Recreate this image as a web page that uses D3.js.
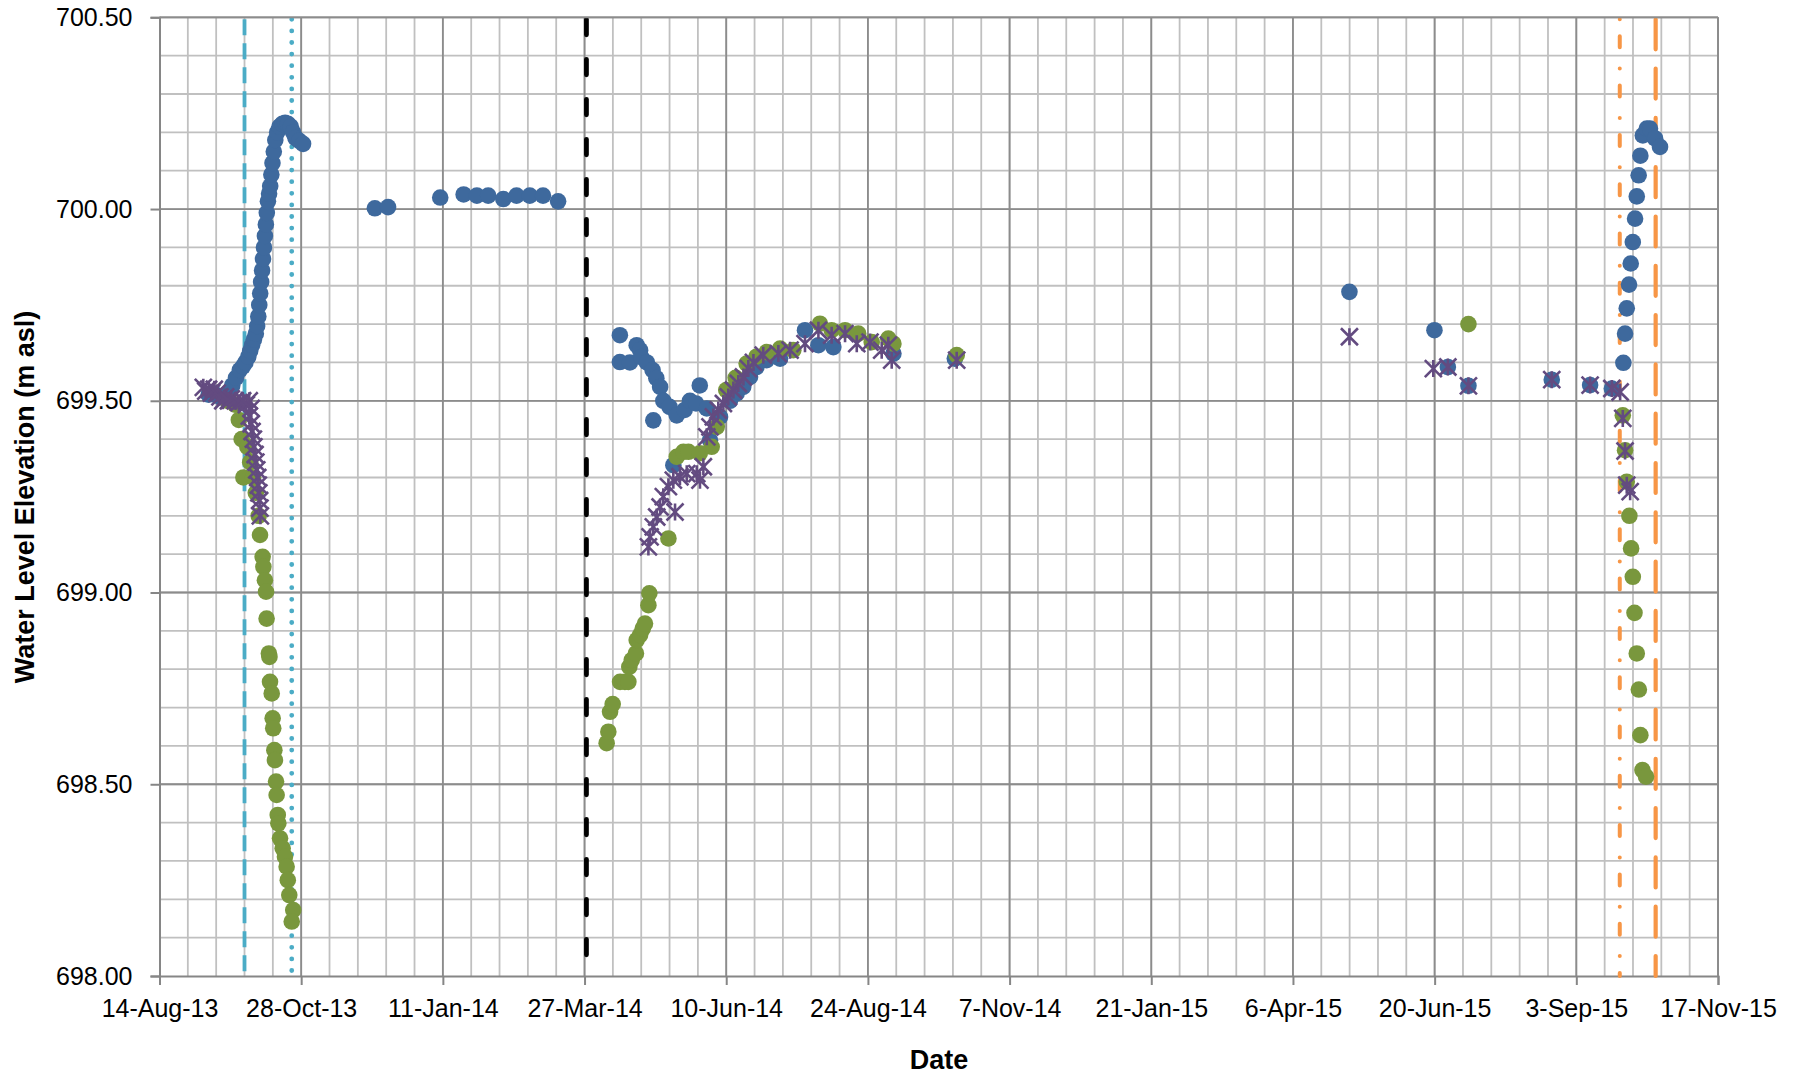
<!DOCTYPE html>
<html lang="en">
<head>
<meta charset="UTF-8">
<title>Water Level Elevation</title>
<script src="https://d3js.org/d3.v7.min.js"></script>
<style>
  body { margin: 0; background: #fff; }
  text { font-family: "Liberation Sans", Arial, sans-serif; fill: #000; }
</style>
</head>
<body>
<div id="chart"></div>
<script>
// all x values are days after 14-Aug-13
var blueDays = [26, 28, 30, 32, 34, 36, 38.5, 40.5, 42.5, 44.2, 45.5, 47, 48, 49, 50, 51, 51.7, 52.3, 52.8, 53.3,
    53.8, 54.3, 54.8, 55.3, 55.8, 56.3, 56.8, 57.4, 58, 58.6, 59.2, 59.8, 60.5, 61.3, 62.3, 63.5, 65, 66.5, 68, 69.5,
    70.7, 72, 74, 76,
    114, 121, 148.6, 161, 168, 174, 182, 189, 196, 203, 211,
    243.7, 243.7, 249, 252.6, 254.4, 255, 258, 261, 261.4, 263, 265, 266.7, 270, 272, 273.8, 278, 280.8, 284, 286,
    289.7, 291.4, 296.7, 302, 305.5, 309, 312.6, 316, 321.4, 328.5, 341.7, 348.8, 356.7, 388.5, 421,
    629.9, 674.9, 682, 692.9, 737, 757.3, 768.8, 774.9, 775.8, 776.7, 777.9, 778.8, 779.9, 781.1, 782, 783, 783.9,
    785.2, 787.3, 789, 791.7, 794.3];
var blueLevels = [699.516, 699.52, 699.515, 699.51, 699.512, 699.52, 699.54, 699.56, 699.58, 699.59, 699.60, 699.615,
    699.63, 699.645, 699.66, 699.675, 699.695, 699.72, 699.75, 699.78, 699.81, 699.84, 699.87, 699.90, 699.93, 699.96,
    699.99, 700.02, 700.04, 700.06, 700.09, 700.12, 700.15, 700.18, 700.20, 700.215, 700.222, 700.225, 700.222,
    700.215, 700.20, 700.185, 700.178, 700.17,
    700.002, 700.005, 700.03, 700.038, 700.035, 700.035, 700.026, 700.035, 700.035, 700.035, 700.02,
    699.671, 699.601, 699.60, 699.645, 699.632, 699.614, 699.60, 699.58, 699.449, 699.559, 699.536, 699.50, 699.484,
    699.332, 699.462, 699.476, 699.50, 699.493, 699.54, 699.48, 699.397, 699.458, 699.50, 699.519, 699.536, 699.562,
    699.588, 699.606, 699.61, 699.684, 699.645, 699.64, 699.623, 699.61,
    699.784, 699.684, 699.588, 699.539, 699.555, 699.541, 699.532, 699.599, 699.675, 699.741, 699.803, 699.858,
    699.914, 699.975, 700.033, 700.088, 700.139, 700.192, 700.21, 700.21, 700.184, 700.162];

var greenDays = [36, 40, 42, 43.5, 44.4, 46.5, 48, 49.5, 51, 52.5, 53.2, 54.6, 55, 55.8, 56.4, 56.7, 57.9, 58.2, 58.5,
    59.4, 59.9, 60.2, 60.8, 61.1, 61.7, 62, 62.6, 62.9, 63.8, 65.2, 66.4, 67.3, 67.9, 68.7, 70.8, 70,
    236.7, 237.6, 238.5, 239.9, 243.8, 246.4, 248.2, 248.7, 250, 252.2, 252.6, 254.4, 255.8, 257, 258.8, 259.3,
    269.4, 273.8, 277.3, 280, 286, 292.3, 295, 300, 305, 310.8, 316, 321.4, 328.5, 335.5, 349.6, 355.8, 362.9,
    369.9, 377, 385.8, 388.5, 422,
    692.9, 774.6, 775.8, 776.7, 778.1, 779, 779.9, 780.8, 782, 783.1, 783.9, 785, 786.9];
var greenLevels = [699.50, 699.49, 699.45, 699.40, 699.30, 699.38, 699.34, 699.30, 699.26, 699.20, 699.15, 699.093,
    699.067, 699.032, 699.002, 698.932, 698.841, 698.832, 698.767, 698.737, 698.672, 698.646, 698.589, 698.563,
    698.507, 698.472, 698.42, 698.398, 698.359, 698.333, 698.311, 698.285, 698.25, 698.211, 698.172, 698.142,
    698.607, 698.637, 698.689, 698.709, 698.767, 698.767, 698.767, 698.806, 698.824, 698.841, 698.876, 698.889,
    698.906, 698.919, 698.967, 698.998,
    699.141, 699.354, 699.367, 699.367, 699.363, 699.38, 699.432, 699.528, 699.56, 699.597, 699.615, 699.627,
    699.636, 699.632, 699.701, 699.684, 699.684, 699.675, 699.653, 699.662, 699.649, 699.619,
    699.70, 699.462, 699.371, 699.289, 699.20, 699.115, 699.041, 698.947, 698.841, 698.747, 698.628, 698.537, 698.52];

var purpleDays = [23.2, 24.5, 26, 27.5, 29, 30.5, 32, 33.5, 35, 36.5, 38, 40, 42, 44, 46, 47.5, 48.5, 47.5, 48.5, 49,
    49.7, 50, 50.6, 51, 51.5, 52, 52.3, 52.6, 53, 53.2, 53.4,
    258.8, 259.7, 261.4, 263.2, 265, 266.7, 269.4, 272, 272.9, 275.5, 279.1, 284.4, 286.1, 287.9, 289.7, 291.4,
    293.2, 295.8, 298.5, 301.1, 303.8, 306.4, 309.1, 311.7, 314.4, 319.6, 327.6, 333.8, 341.7, 348.8, 355.8, 362.9,
    369.1, 376.1, 382.3, 385.8, 387.6, 422,
    629.9, 674.3, 682, 692.9, 737, 757.3, 768.8, 773.2, 774.6, 775.8, 776.7, 778.5];
var purpleLevels = [699.535, 699.525, 699.53, 699.52, 699.53, 699.52, 699.51, 699.50, 699.51, 699.50, 699.505, 699.50,
    699.495, 699.50, 699.49, 699.50, 699.48, 699.46, 699.44, 699.42, 699.40, 699.38, 699.36, 699.34, 699.32, 699.30,
    699.28, 699.26, 699.24, 699.22, 699.20,
    699.119, 699.145, 699.171, 699.197, 699.223, 699.25, 699.276, 699.293, 699.21, 699.302, 699.31, 699.31, 699.293,
    699.328, 699.406, 699.432, 699.458, 699.476, 699.493, 699.51, 699.528, 699.545, 699.562, 699.584, 699.60,
    699.619, 699.623, 699.632, 699.649, 699.684, 699.671, 699.675, 699.649, 699.653, 699.632, 699.645, 699.606,
    699.606,
    699.667, 699.584, 699.588, 699.539, 699.555, 699.541, 699.532, 699.523, 699.454, 699.369, 699.28, 699.263];

// vertical event lines (days after 14-Aug-13)
var eventDays = [45, 70, 226, 773, 792];

var xTickLabels = ["14-Aug-13", "28-Oct-13", "11-Jan-14", "27-Mar-14", "10-Jun-14", "24-Aug-14", "7-Nov-14",
    "21-Jan-15", "6-Apr-15", "20-Jun-15", "3-Sep-15", "17-Nov-15"];
var yTickLabels = ["698.00", "698.50", "699.00", "699.50", "700.00", "700.50"];

var margin = {top: 17.3, right: 87, bottom: 100, left: 159.5},
    width = 1805 - margin.left - margin.right,
    height = 1076 - margin.top - margin.bottom;

var parseDate = d3.utcParse("%d-%b-%y");
var xTicks = xTickLabels.map(parseDate);
var start = xTicks[0], end = xTicks[xTicks.length - 1];
function toDate(d) { return new Date(start.getTime() + d * 864e5); }

var svg = d3.select("#chart")
    .append("svg")
    .attr("width", 1805)
    .attr("height", 1076)
    .append("g")
    .attr("transform", "translate(" + margin.left + "," + margin.top + ")");

var x = d3.scaleUtc().domain([start, end]).range([0, width]);
var yTicks = yTickLabels.map(Number);
var y = d3.scaleLinear().domain([yTicks[0], yTicks[yTicks.length - 1]]).range([height, 0]);

// minor grid every 15 days / 0.1 m
var grid = svg.append("g");
grid.selectAll(".vmin")
    .data(d3.range(15, 825, 15).map(toDate))
    .enter().append("line")
    .attr("x1", d => x(d)).attr("x2", d => x(d))
    .attr("y1", 0).attr("y2", height)
    .attr("stroke", "#c0c0c0").attr("stroke-width", 1.8);
grid.selectAll(".hmin")
    .data(d3.range(1, 25).map(i => yTicks[0] + i * 0.1))
    .enter().append("line")
    .attr("x1", 0).attr("x2", width)
    .attr("y1", d => y(d)).attr("y2", d => y(d))
    .attr("stroke", "#c0c0c0").attr("stroke-width", 1.8);
// major grid
grid.selectAll(".vmaj")
    .data(xTicks.slice(1))
    .enter().append("line")
    .attr("x1", d => x(d)).attr("x2", d => x(d))
    .attr("y1", 0).attr("y2", height)
    .attr("stroke", "#8c8c8c").attr("stroke-width", 1.8);
grid.selectAll(".hmaj")
    .data(yTicks.slice(1))
    .enter().append("line")
    .attr("x1", 0).attr("x2", width)
    .attr("y1", d => y(d)).attr("y2", d => y(d))
    .attr("stroke", "#8c8c8c").attr("stroke-width", 1.8);

// axes
var xAxis = svg.append("g")
    .attr("transform", "translate(0," + height + ")")
    .call(d3.axisBottom(x).tickValues(xTicks).tickFormat((d, i) => xTickLabels[i]).tickSize(9).tickPadding(14));
var yAxis = svg.append("g")
    .call(d3.axisLeft(y).tickValues(yTicks).tickFormat((d, i) => yTickLabels[i]).tickSize(9).tickPadding(18));
[xAxis, yAxis].forEach(function(a) {
    a.select(".domain").attr("stroke", "#868686").attr("stroke-width", 2);
    a.selectAll(".tick line").attr("stroke", "#868686").attr("stroke-width", 2);
    a.selectAll("text").style("font-size", "25px").attr("fill", "#000");
});

// event lines
var eventStyles = [
    {color: "#4bacc6", width: 3.8, dash: "16,8", cap: "butt"},
    {color: "#4bacc6", width: 4.8, dash: "0,11.6", cap: "round"},
    {color: "#000000", width: 4.8, dash: "15.5,24.5", cap: "round"},
    {color: "#f79646", width: 4, dash: "0,17,11,21.3", cap: "round"},
    {color: "#f79646", width: 4.2, dash: "30,19.3", cap: "round"}
];
svg.selectAll(".event")
    .data(eventDays)
    .enter().append("line")
    .attr("x1", d => x(toDate(d))).attr("x2", d => x(toDate(d)))
    .attr("y1", 2).attr("y2", height)
    .attr("stroke", (d, i) => eventStyles[i].color)
    .attr("stroke-width", (d, i) => eventStyles[i].width)
    .attr("stroke-dasharray", (d, i) => eventStyles[i].dash)
    .attr("stroke-linecap", (d, i) => eventStyles[i].cap);

// series
function pts(days, levels) { return days.map((d, i) => ({date: toDate(d), v: levels[i]})); }

svg.append("g").selectAll("circle")
    .data(pts(blueDays, blueLevels))
    .enter().append("circle")
    .attr("cx", d => x(d.date)).attr("cy", d => y(d.v))
    .attr("r", 8.3).attr("fill", "#3e699d");

svg.append("g").selectAll("circle")
    .data(pts(greenDays, greenLevels))
    .enter().append("circle")
    .attr("cx", d => x(d.date)).attr("cy", d => y(d.v))
    .attr("r", 8.3).attr("fill", "#79973d");

var s = 8.5;
svg.append("g").selectAll("path")
    .data(pts(purpleDays, purpleLevels))
    .enter().append("path")
    .attr("transform", d => "translate(" + x(d.date) + "," + y(d.v) + ")")
    .attr("d", "M" + (-s) + "," + (-s) + "L" + s + "," + s + "M" + (-s) + "," + s + "L" + s + "," + (-s) +
        "M0," + (-s) + "L0," + s)
    .attr("stroke", "#634b80").attr("stroke-width", 2.6).attr("fill", "none");

// border top/right
svg.append("line").attr("x1", 0).attr("x2", width).attr("y1", 0).attr("y2", 0)
    .attr("stroke", "#8c8c8c").attr("stroke-width", 1.8);
svg.append("line").attr("x1", width).attr("x2", width).attr("y1", 0).attr("y2", height)
    .attr("stroke", "#8c8c8c").attr("stroke-width", 1.8);

// axis titles
svg.append("text")
    .attr("transform", "translate(" + (25 - margin.left) + "," + (497 - margin.top) + ") rotate(-90)")
    .attr("text-anchor", "middle").attr("dy", "0.35em")
    .style("font-size", "27px").style("font-weight", "bold")
    .text("Water Level Elevation (m asl)");
svg.append("text")
    .attr("x", 939 - margin.left).attr("y", 1060 - margin.top)
    .attr("text-anchor", "middle").attr("dy", "0.35em")
    .style("font-size", "27px").style("font-weight", "bold")
    .text("Date");
</script>
</body>
</html>
